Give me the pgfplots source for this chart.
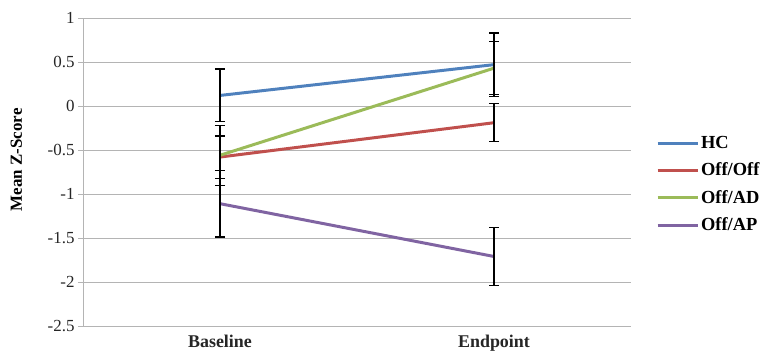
\documentclass[border=0pt]{standalone}
\usepackage{fontspec}
\setmainfont{Liberation Serif}
\usepackage{pgfplots}
\pgfplotsset{compat=1.18}
\definecolor{cHC}{HTML}{4F81BD}
\definecolor{cOO}{HTML}{C0504D}
\definecolor{cAD}{HTML}{9BBB59}
\definecolor{cAP}{HTML}{8064A2}
\definecolor{gridc}{HTML}{B4B4B4}
\begin{document}
\begin{tikzpicture}[x=1bp,y=1bp]
\useasboundingbox (-83bp,-26bp) rectangle (679bp,326bp);
\begin{axis}[
  at={(0,0)}, anchor=south west,
  scale only axis, width=548bp, height=308bp,
  xmin=-0.5, xmax=1.5, ymin=-2.5, ymax=1,
  xtick={0,1}, xticklabels={\textbf{Baseline},\textbf{Endpoint}},
  ytick={-2.5,-2,-1.5,-1,-0.5,0,0.5,1},
  yticklabels={-2.5,-2,-1.5,-1,-0.5,0,0.5,1},
  ymajorgrids, grid style={gridc, line width=0.8pt},
  axis x line*=bottom, axis y line*=left,
  axis line style={gridc, line width=0.8pt},
  x axis line style={-}, y axis line style={-},
  xtick style={draw=none},
  ytick style={gridc, line width=0.8pt},
  tick align=outside, major tick length=5bp,
  tick label style={font=\fontsize{17}{19}\selectfont, text=black!85},
  xticklabel style={font=\fontsize{18}{20}\selectfont, yshift=-1bp},
  ylabel={\textbf{Mean Z-Score}},
  ylabel style={font=\fontsize{17}{19}\selectfont, at={(axis description cs:-0.105,0.54)}, anchor=south},
  legend style={draw=none, fill=none, at={(axis description cs:1.04,0.46)}, anchor=west,
    font=\bfseries\fontsize{18.5}{20}\selectfont, row sep=9bp,
    legend cell align=left},
  legend image code/.code={\draw[#1, line width=3pt] (0bp,0bp) -- (40bp,0bp);},
  clip=false,
  error bars/y dir=both, error bars/y explicit,
  error bars/error bar style={black, line width=1.3pt},
  error bars/error mark options={black, line width=1.3pt, mark size=5bp, rotate=90},
]
\addplot[cHC, line width=3pt, mark=none] coordinates {(0,0.12) +- (0,0.30) (1,0.47) +- (0,0.36)};
\addlegendentry{HC}
\addplot[cOO, line width=3pt, mark=none] coordinates {(0,-0.58) +- (0,0.24) (1,-0.19) +- (0,0.215)};
\addlegendentry{Off/Off}
\addplot[cAD, line width=3pt, mark=none] coordinates {(0,-0.56) +- (0,0.34) (1,0.43) +- (0,0.30)};
\addlegendentry{Off/AD}
\addplot[cAP, line width=3pt, mark=none] coordinates {(0,-1.11) +- (0,0.38) (1,-1.71) +- (0,0.33)};
\addlegendentry{Off/AP}
\end{axis}
\end{tikzpicture}
\end{document}
